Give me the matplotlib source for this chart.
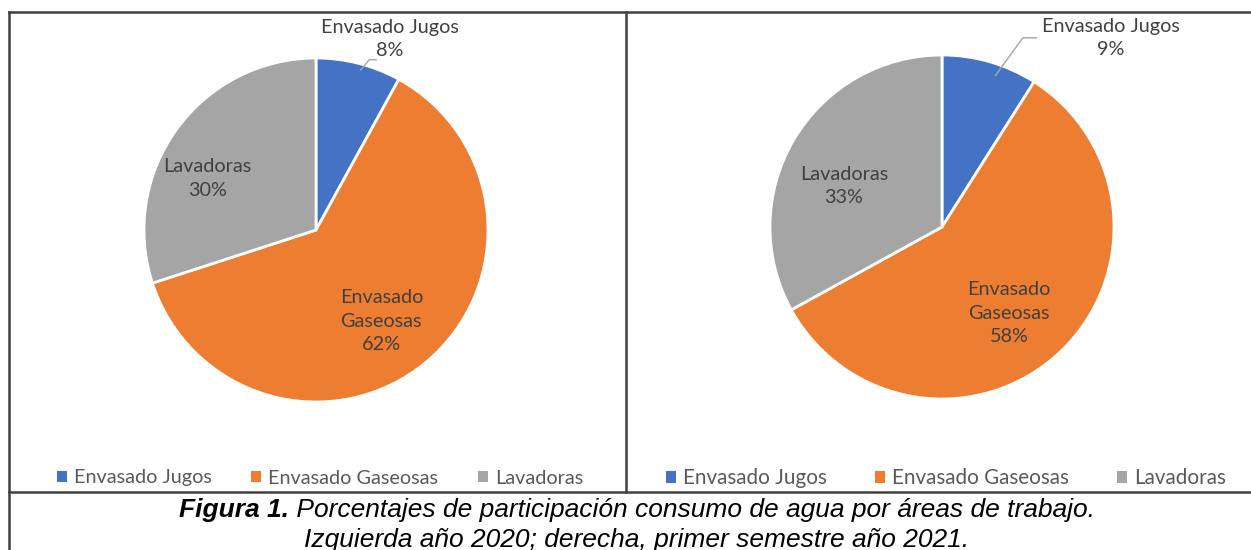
import matplotlib.pyplot as plt
from matplotlib.lines import Line2D
from matplotlib.patches import Patch

# Data
categories = ["Envasado Jugos", "Envasado Gaseosas", "Lavadoras"]
pie_names = ["Envasado Jugos", "Envasado\nGaseosas", "Lavadoras"]
values_2020 = [8, 62, 30]
values_2021 = [9, 58, 33]
colors = ["#4472C4", "#ED7D31", "#A5A5A5"]
pct_labels_2020 = ["8%", "62%", "30%"]
pct_labels_2021 = ["9%", "58%", "33%"]

W, H = 1251, 550
FONT = ["Lato", "DejaVu Sans"]
CAP_FONT = ["Liberation Sans", "DejaVu Sans"]
TXT = "#404040"
R = 172.0   # pie radius in pixels
K = 1.35    # axes half-size in units of radius

fig = plt.figure(figsize=(W / 100, H / 100), dpi=100)


def pie_axes(cx, cy):
    s = 2 * R * K
    return fig.add_axes([(cx - s / 2) / W, 1 - (cy + s / 2) / H, s / W, s / H])


def draw_pie(ax, values, pcts, pos, leader):
    ax.pie(values, colors=colors, startangle=90, counterclock=False, radius=1.0,
           wedgeprops=dict(edgecolor="white", linewidth=2))
    ax.set_xlim(-K, K)
    ax.set_ylim(-K, K)
    ax.set_aspect("equal")
    ax.axis("off")
    for i, (x, y) in enumerate(pos):
        ax.text(x, y, pie_names[i] + "\n" + pcts[i], ha="center", va="center",
                fontsize=14.3, color=TXT, family=FONT, linespacing=1.45)
    ax.add_line(Line2D(leader[0], leader[1], color="#A6A6A6", lw=1))


# left pie, 2020
axL = pie_axes(316, 230)
draw_pie(axL, values_2020, pct_labels_2020,
         [(0.43, 1.11), (0.38, -0.53), (-0.63, 0.30)],
         ([0.35, 0.31, 0.26], [0.99, 0.99, 0.93]))

# right pie, 2021
axR = pie_axes(942, 227)
draw_pie(axR, values_2021, pct_labels_2021,
         [(0.98, 1.10), (0.39, -0.50), (-0.57, 0.24)],
         ([0.55, 0.47, 0.31], [1.10, 1.10, 0.88]))

# legends (the right one is drawn a little larger in the source)
handles = [Patch(facecolor=c, edgecolor="none") for c in colors]
for cx, fs, cs in ((320, 14.3, 2.0), (946, 14.9, 2.3)):
    fig.legend(handles, categories, loc="center", bbox_to_anchor=(cx / W, 1 - 478 / H),
               ncol=3, frameon=False, handlelength=0.5, handleheight=0.5,
               handletextpad=0.35, columnspacing=cs,
               prop=dict(family=FONT, size=fs), labelcolor="#595959")

# table borders
border = dict(color="#404040", lw=1.8, transform=fig.transFigure)
fig.add_artist(Line2D([9 / W, 9 / W], [0, 1 - 12 / H], **border))
fig.add_artist(Line2D([9 / W, 1.0], [1 - 12 / H, 1 - 12 / H], **border))
fig.add_artist(Line2D([626 / W, 626 / W], [1 - 12 / H, 1 - 492 / H], **border))
fig.add_artist(Line2D([9 / W, 1.0], [1 - 492 / H, 1 - 492 / H], **border))

# caption: bold italic prefix + italic rest, centred together
cap1_bold = "Figura 1."
cap1_rest = " Porcentajes de participación consumo de agua por áreas de trabajo."
cap2 = "Izquierda año 2020; derecha, primer semestre año 2021."
CS = 19
fig.canvas.draw()
r = fig.canvas.get_renderer()
tb = fig.text(0, 0, cap1_bold, fontsize=CS, style="italic", weight="bold",
              family=CAP_FONT, va="center")
tr = fig.text(0, 0, cap1_rest, fontsize=CS, style="italic", family=CAP_FONT, va="center")
wb = tb.get_window_extent(r).width
wr = tr.get_window_extent(r).width
x0 = 637 - (wb + wr) / 2
tb.set_position((x0 / W, 1 - 510 / H))
tr.set_position(((x0 + wb) / W, 1 - 510 / H))
fig.text(637 / W, 1 - 540 / H, cap2, ha="center", va="center", fontsize=CS,
         style="italic", family=CAP_FONT)

fig.savefig("out.png", dpi=100)
